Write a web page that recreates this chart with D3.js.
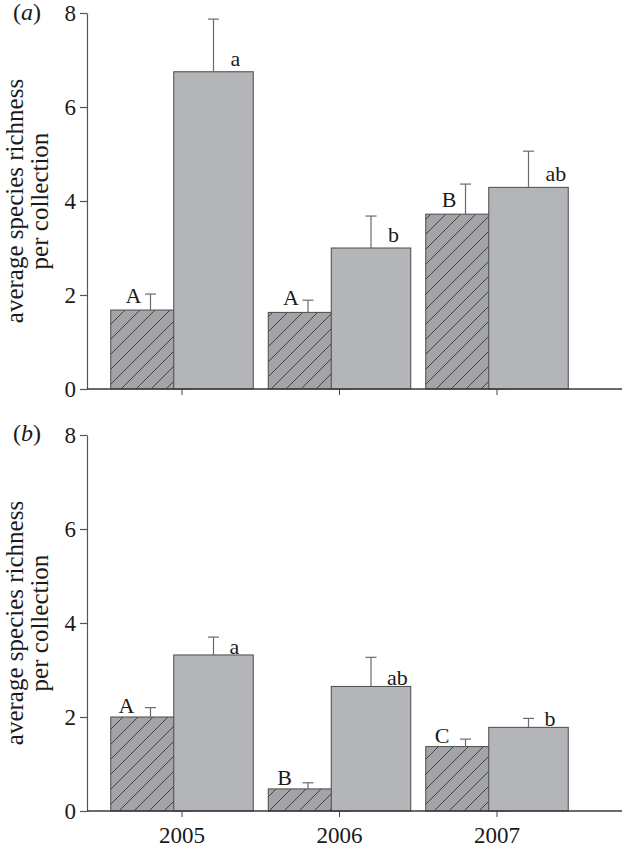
<!DOCTYPE html>
<html>
<head>
<meta charset="utf-8">
<script src="https://cdn.jsdelivr.net/npm/d3@7"></script>
<style>
  html, body { margin: 0; padding: 0; background: #fff; }
  svg { display: block; }
  svg text { font-family: "Liberation Serif", "Times New Roman", serif; }
</style>
</head>
<body>
<svg id="chart" width="624" height="850"></svg>
<script>
// ---- data ----
const years = ["2005", "2006", "2007"];
const yTicks = [0, 2, 4, 6, 8];

// panel (a)
const aHatched = [1.68, 1.63, 3.72];
const aHatchedErr = [0.34, 0.26, 0.64];
const aSolid = [6.75, 3.00, 4.29];
const aSolidErr = [1.12, 0.68, 0.77];
const aHatchedLetters = ["A", "A", "B"];
const aSolidLetters = ["a", "b", "ab"];

// panel (b)
const bHatched = [2.00, 0.47, 1.37];
const bHatchedErr = [0.20, 0.13, 0.16];
const bSolid = [3.32, 2.65, 1.78];
const bSolidErr = [0.38, 0.62, 0.19];
const bHatchedLetters = ["A", "B", "C"];
const bSolidLetters = ["a", "ab", "b"];

const yLabelLines = ["average species richness", "per collection"];

// ---- layout ----
const svg = d3.select("#chart");
const FONT = "Liberation Serif";
const axisX0 = 87, axisX1 = 622;
const barW = 79.5, offset = 31.5;
const solidFill = "#b4b5b9", hatchFill = "#a3a4a8", edge = "#4a4a4a", errCol = "#6a6a6a";

function styleText(sel, size) {
  return sel.style("font-family", FONT).style("font-size", size + "px").style("fill", "#1a1a1a");
}

const defs = svg.append("defs");
const pat = defs.append("pattern")
  .attr("id", "hatch").attr("patternUnits", "userSpaceOnUse")
  .attr("width", 15).attr("height", 15);
pat.append("rect").attr("width", 15).attr("height", 15).attr("fill", hatchFill);
pat.append("path")
  .attr("d", "M-2,2 L2,-2 M0,15 L15,0 M13,17 L17,13")
  .attr("stroke", "#2a2a2a").attr("stroke-width", 0.8);

const x = d3.scaleBand().domain(years).range([103.25, 575.75]);

const panels = [
  { label: "a", top: 13, bottom: 389, hv: aHatched, he: aHatchedErr, sv: aSolid, se: aSolidErr,
    hl: aHatchedLetters, sl: aSolidLetters, showX: false, capDx: -9, capDy: -7, lowDx: 17, lowDy: -6, labY: 20 },
  { label: "b", top: 435, bottom: 811, hv: bHatched, he: bHatchedErr, sv: bSolid, se: bSolidErr,
    hl: bHatchedLetters, sl: bSolidLetters, showX: true, capDx: -16, capDy: -4, lowDx: 16, lowDy: -1, labY: 441 }
];

panels.forEach(p => {
  const g = svg.append("g");
  const y = d3.scaleLinear().domain([0, 8]).range([p.bottom, p.top]);
  const cx = i => x(years[i]) + x.bandwidth() / 2;

  // hatched bars (drawn first, partly covered by the solid bars)
  years.forEach((yr, i) => {
    const xc = cx(i) - offset;
    g.append("rect")
      .attr("x", xc - barW / 2).attr("y", y(p.hv[i]))
      .attr("width", barW).attr("height", y(0) - y(p.hv[i]))
      .attr("fill", "url(#hatch)").attr("stroke", edge).attr("stroke-width", 1);
  });
  // solid bars
  years.forEach((yr, i) => {
    const xc = cx(i) + offset;
    g.append("rect")
      .attr("x", xc - barW / 2).attr("y", y(p.sv[i]))
      .attr("width", barW).attr("height", y(0) - y(p.sv[i]))
      .attr("fill", solidFill).attr("stroke", edge).attr("stroke-width", 1);
  });

  // error bars
  const drawErr = (xc, v, e) => {
    g.append("line").attr("x1", xc).attr("x2", xc).attr("y1", y(v)).attr("y2", y(v + e))
      .attr("stroke", errCol).attr("stroke-width", 1.2);
    g.append("line").attr("x1", xc - 5.5).attr("x2", xc + 5.5).attr("y1", y(v + e)).attr("y2", y(v + e))
      .attr("stroke", errCol).attr("stroke-width", 1.2);
  };
  years.forEach((yr, i) => {
    drawErr(cx(i) - offset, p.hv[i], p.he[i]);
    drawErr(cx(i) + offset, p.sv[i], p.se[i]);
  });

  // significance letters
  years.forEach((yr, i) => {
    styleText(g.append("text"), 22)
      .attr("x", cx(i) - offset + p.capDx).attr("y", y(p.hv[i]) + p.capDy)
      .attr("text-anchor", "end").text(p.hl[i]);
    styleText(g.append("text"), 22)
      .attr("x", cx(i) + offset + p.lowDx).attr("y", y(p.sv[i]) + p.lowDy)
      .attr("text-anchor", "start").text(p.sl[i]);
  });

  // y axis
  const ya = g.append("g").attr("transform", `translate(${axisX0},0)`)
    .call(d3.axisLeft(y).tickValues(yTicks).tickSize(7).tickPadding(4).tickSizeOuter(0));
  ya.select(".domain").attr("stroke", "#555").attr("stroke-width", 1.2);
  ya.selectAll(".tick line").attr("stroke", "#555").attr("stroke-width", 1.2);
  styleText(ya.selectAll(".tick text"), 23);

  // x axis
  const xa = g.append("g").attr("transform", `translate(0,${p.bottom})`)
    .call(d3.axisBottom(x).tickSize(6).tickPadding(10).tickSizeOuter(0)
      .tickFormat(p.showX ? (d => d) : () => ""));
  xa.select(".domain").remove();
  xa.selectAll(".tick line").attr("stroke", "#444").attr("stroke-width", 1);
  styleText(xa.selectAll(".tick text"), 23);
  g.append("line").attr("x1", axisX0).attr("x2", axisX1).attr("y1", p.bottom).attr("y2", p.bottom)
    .attr("stroke", "#3a3a3a").attr("stroke-width", 1.6);

  // y axis title
  const midY = (p.top + p.bottom) / 2;
  yLabelLines.forEach((t, k) => {
    styleText(g.append("text"), 25)
      .attr("transform", `translate(${22.5 + 25 * k},${midY}) rotate(-90)`)
      .attr("text-anchor", "middle").text(t);
  });

  // panel label
  const pl = styleText(g.append("text"), 24).attr("x", 13).attr("y", p.labY);
  pl.append("tspan").text("(");
  pl.append("tspan").style("font-style", "italic").text(p.label);
  pl.append("tspan").text(")");
});
</script>
</body>
</html>
